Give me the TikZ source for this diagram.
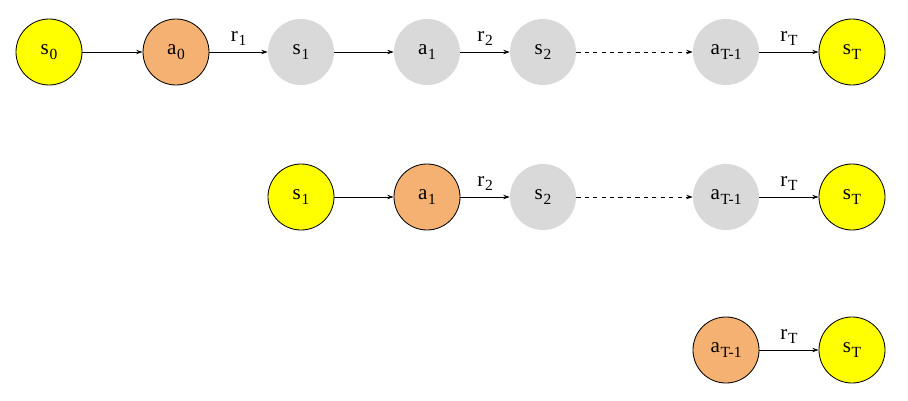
\documentclass[tikz,border=0pt]{standalone}
\usepackage{fontspec}
\setmainfont{Liberation Serif}
\usetikzlibrary{arrows.meta}
\definecolor{stateyellow}{HTML}{FFFF00}
\definecolor{actorange}{HTML}{F5B171}
\definecolor{futuregray}{HTML}{D9D9D9}
\newcommand{\sym}[2]{#1\kern0.5pt\raisebox{-0.45ex}{\fontsize{11}{12}\selectfont #2}}
\begin{document}
\begin{tikzpicture}[x=0.025cm,y=-0.025cm]
\tikzset{
  graphnode/.style={circle,minimum size=1.65cm,inner sep=1pt,font=\fontsize{15}{17}\selectfont},
  statenode/.style={graphnode,draw=black,line width=0.6pt,fill=stateyellow},
  actnode/.style={graphnode,draw=black,line width=0.6pt,fill=actorange},
  futurenode/.style={graphnode,fill=futuregray},
  graphedge/.style={draw=black,line width=0.6pt},
  directed/.style={graphedge,-{Stealth[length=1.6mm,width=1.1mm]}},
  rewardlabel/.style={above,font=\fontsize{15}{17}\selectfont,inner sep=4pt}
}
\useasboundingbox (0,0) rectangle (908,401);
% first row
\node[statenode] (n_s0) at (49,52) {\sym{s}{0}};
\node[actnode] (n_a0) at (176,52) {\sym{a}{0}};
\node[futurenode] (n_s1) at (301,52) {\sym{s}{1}};
\node[futurenode] (n_a1) at (427,52) {\sym{a}{1}};
\node[futurenode] (n_s2) at (543,52) {\sym{s}{2}};
\node[futurenode] (n_aT) at (726,52) {\sym{a}{T-1}};
\node[statenode] (n_sT) at (852,52) {\sym{s}{T}};
\draw[directed] (n_s0) -- (n_a0);
\draw[directed] (n_a0) -- node[rewardlabel] {\sym{r}{1}} (n_s1);
\draw[directed] (n_s1) -- (n_a1);
\draw[directed] (n_a1) -- node[rewardlabel] {\sym{r}{2}} (n_s2);
\draw[directed,dashed] (n_s2) -- (n_aT);
\draw[directed] (n_aT) -- node[rewardlabel] {\sym{r}{T}} (n_sT);
% second row
\node[statenode] (m_s1) at (301,197) {\sym{s}{1}};
\node[actnode] (m_a1) at (427,197) {\sym{a}{1}};
\node[futurenode] (m_s2) at (543,197) {\sym{s}{2}};
\node[futurenode] (m_aT) at (726,197) {\sym{a}{T-1}};
\node[statenode] (m_sT) at (852,197) {\sym{s}{T}};
\draw[directed] (m_s1) -- (m_a1);
\draw[directed] (m_a1) -- node[rewardlabel] {\sym{r}{2}} (m_s2);
\draw[directed,dashed] (m_s2) -- (m_aT);
\draw[directed] (m_aT) -- node[rewardlabel] {\sym{r}{T}} (m_sT);
% third row
\node[actnode] (k_aT) at (726,350) {\sym{a}{T-1}};
\node[statenode] (k_sT) at (852,350) {\sym{s}{T}};
\draw[directed] (k_aT) -- node[rewardlabel] {\sym{r}{T}} (k_sT);
\end{tikzpicture}
\end{document}
